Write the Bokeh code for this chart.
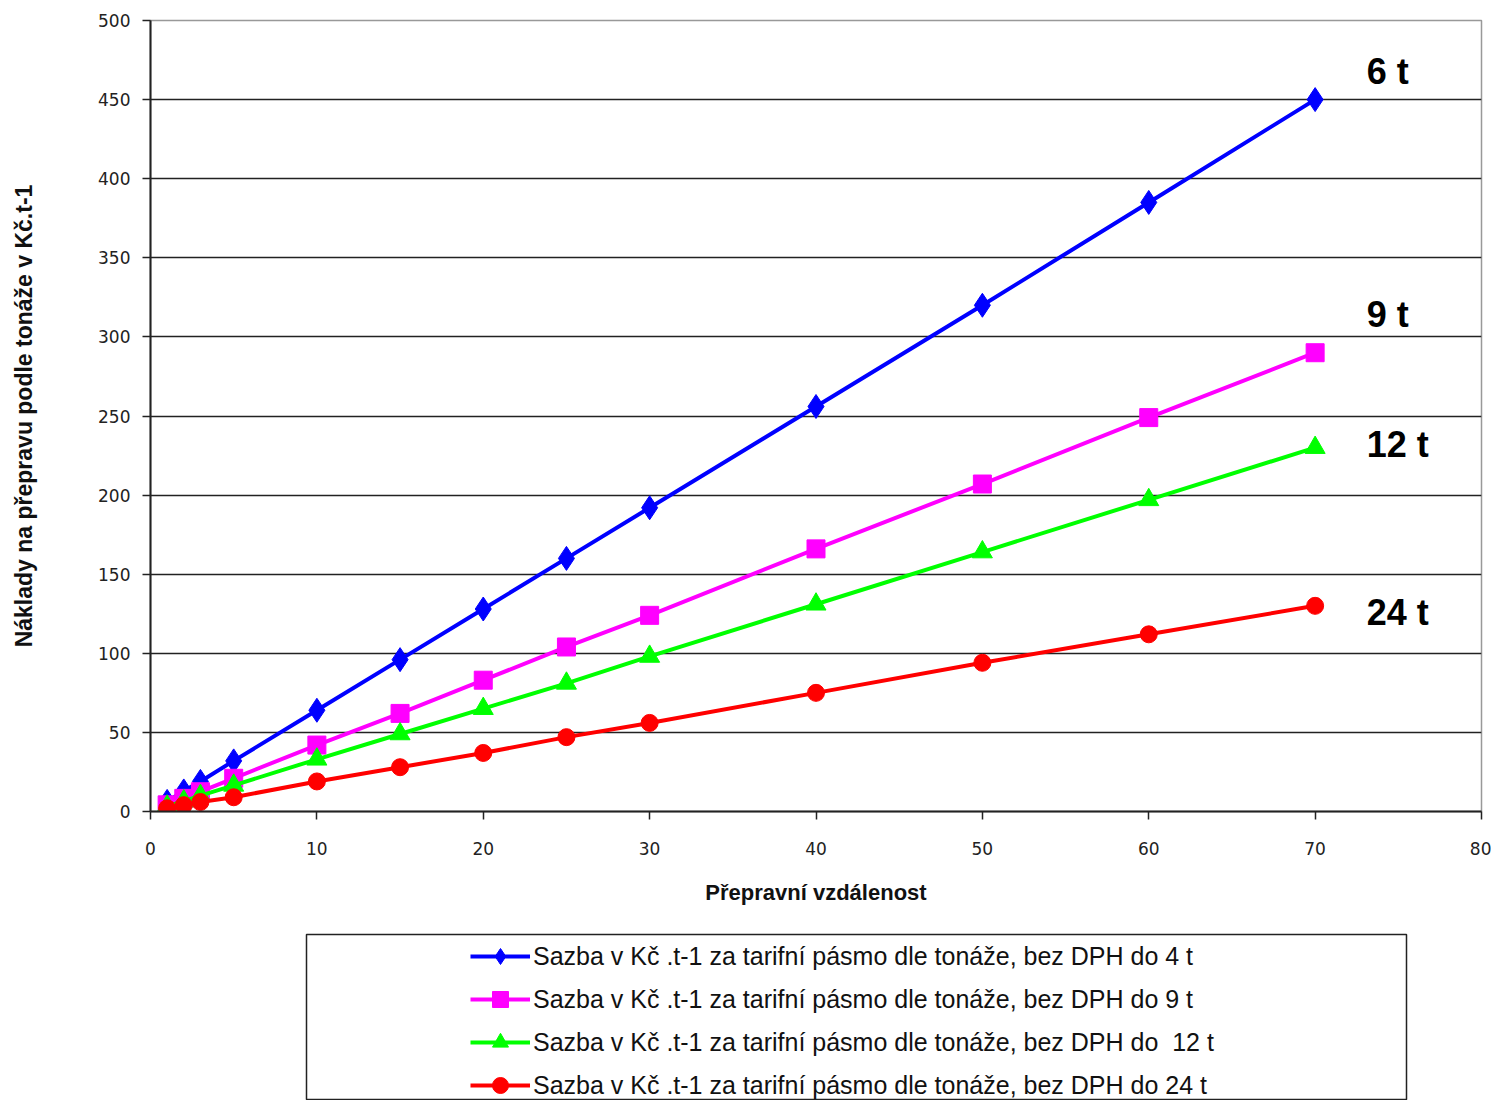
from bokeh.plotting import figure
from bokeh.models import Range1d, Legend, LegendItem, FixedTicker, ColumnDataSource
from bokeh.core.properties import value
from bokeh.embed import file_html
from bokeh.resources import INLINE

# ---- data ----
distance = [1, 2, 3, 5, 10, 15, 20, 25, 30, 40, 50, 60, 70]
cost_4t = [6.4, 13, 19, 32, 64, 96, 128, 160, 192, 256, 320, 385, 450]
cost_9t = [4.2, 8.3, 12.5, 21, 42, 62, 83, 104, 124, 166, 207, 249, 290]
cost_12t = [3.3, 6.6, 10, 16.5, 33, 49, 65, 81, 98, 131, 164, 197, 230]
cost_24t = [2, 4, 6, 9, 19, 28, 37, 47, 56, 75, 94, 112, 130]

series_names = [
    "Sazba v Kč .t-1 za tarifní pásmo dle tonáže, bez DPH do 4 t",
    "Sazba v Kč .t-1 za tarifní pásmo dle tonáže, bez DPH do 9 t",
    "Sazba v Kč .t-1 za tarifní pásmo dle tonáže, bez DPH do  12 t",
    "Sazba v Kč .t-1 za tarifní pásmo dle tonáže, bez DPH do 24 t",
]
end_labels = ["6 t", "9 t", "12 t", "24 t"]
end_label_x = [73.1, 73.1, 73.1, 73.1]
end_label_y = [468, 314, 232, 126]

x_ticks = [0, 10, 20, 30, 40, 50, 60, 70, 80]
y_ticks = [0, 50, 100, 150, 200, 250, 300, 350, 400, 450, 500]

colors = ["#0000FF", "#FF00FF", "#00FF00", "#FF0000"]
markers = ["diamond", "square", "triangle", "circle"]
msizes = [24, 18, 20, 17]
all_series = [cost_4t, cost_9t, cost_12t, cost_24t]

FONT = "Liberation Sans"

# ---- main chart ----
p = figure(width=1491, height=915, output_backend="svg", toolbar_location=None,
           x_range=Range1d(0, 80), y_range=Range1d(0, 500),
           min_border_left=150, min_border_right=10, min_border_top=20,
           min_border_bottom=104)
p.outline_line_color = "#999999"
p.outline_line_width = 1.5
p.xgrid.grid_line_color = None
p.ygrid.grid_line_color = "#222222"
p.ygrid.grid_line_width = 1.5
p.xaxis.ticker = FixedTicker(ticks=x_ticks)
p.yaxis.ticker = FixedTicker(ticks=y_ticks)
for ax in (p.xaxis, p.yaxis):
    ax.axis_line_color = "#222222"
    ax.axis_line_width = 2
    ax.major_tick_line_color = "#222222"
    ax.major_tick_line_width = 1.5
    ax.major_tick_out = 8
    ax.major_tick_in = 0
    ax.minor_tick_line_color = None
    ax.major_label_text_font = "DejaVu Sans"
    ax.major_label_text_font_size = "17px"
    ax.major_label_text_color = "#222222"
    ax.axis_label_text_font = FONT
    ax.axis_label_text_font_style = "bold"
    ax.axis_label_text_font_size = "22px"
    ax.axis_label_text_color = "#111111"
p.yaxis.axis_label_text_font_size = "23px"
p.xaxis.major_label_standoff = 22
p.xaxis.axis_label_standoff = 22
p.yaxis.major_label_standoff = 12
p.yaxis.axis_label_standoff = 58
p.xaxis.axis_label = "Přepravní vzdálenost"
p.yaxis.axis_label = "Náklady na přepravu podle tonáže v Kč.t-1"

for ys, c, m, s in zip(all_series, colors, markers, msizes):
    src = ColumnDataSource(dict(x=distance, y=ys))
    p.line("x", "y", source=src, line_color=c, line_width=4)
    p.scatter("x", "y", source=src, marker=m, size=s, fill_color=c, line_color=c)

p.text(x=end_label_x, y=end_label_y, text=end_labels,
       text_font=value(FONT), text_font_style="bold", text_font_size="36px",
       text_color="black", text_baseline="middle", text_align="left")

# ---- legend panel (separate root, its frame is the legend box) ----
q = figure(width=1491, height=185, output_backend="svg", toolbar_location=None,
           x_range=Range1d(-20, -10), y_range=Range1d(-20, -10),
           x_axis_location=None, y_axis_location=None,
           min_border_left=306, min_border_right=85, min_border_top=19,
           min_border_bottom=0)
q.xgrid.grid_line_color = None
q.ygrid.grid_line_color = None
q.outline_line_color = "#222222"
q.outline_line_width = 1.5

items = []
for ys, c, m, name in zip(all_series, colors, markers, series_names):
    src = ColumnDataSource(dict(x=distance, y=ys))
    r1 = q.line("x", "y", source=src, line_color=c, line_width=4)
    r2 = q.scatter("x", "y", source=src, marker=m, size=14, fill_color=c, line_color=c)
    items.append(LegendItem(label=name, renderers=[r1, r2]))

leg = Legend(items=items, location=(164, -5), padding=0, margin=0,
             border_line_color=None, background_fill_alpha=0,
             label_text_font=FONT, label_text_font_size="25px",
             label_text_color="#111111",
             glyph_width=60, glyph_height=40, label_height=40,
             label_standoff=3, spacing=3)
q.add_layout(leg, "center")

open("out.html", "w").write(file_html([p, q], INLINE))
